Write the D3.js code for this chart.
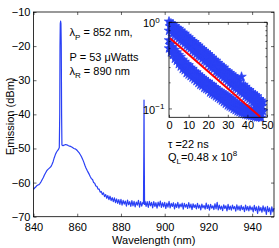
<!DOCTYPE html>
<html><head><meta charset="utf-8">
<script src="https://cdn.jsdelivr.net/npm/d3@7"></script>
<style>body{margin:0;background:#fff}svg{display:block}text{font-family:"Liberation Sans",Arial,sans-serif;fill:#000}</style>
</head><body>
<script>
// ---- main spectrum data ----
const wavelengths = [840,840.5,841,841.5,842,842.5,843,843.5,844,844.5,845,845.5,846,846.5,847,847.5,848,848.5,849,849.5,850,850.5,851,851.5,851.8,852.0,852.12,852.25,852.4,852.55,852.7,852.85,853.0,853.5,854,854.5,855,855.5,856,856.5,857,857.5,858,858.5,859,859.5,860,860.5,861,861.5,862,862.5,863,863.5,864,864.5,865,865.5,
866,866.5,867,867.5,868,868.5,869,869.5,870,870.5,871,871.5,872,872.5,873,873.5,874,874.5,875,875.5,876,876.5,877,877.5,878,878.5,879,879.5,880,880.5,881,881.5,882,882.5,883,883.5,884,884.5,885,885.5,886,886.5,887,887.5,888,888.5,889,889.5,890,890.3,890.45,890.55,890.65,890.8,
891,891.5,892,892.5,893,893.5,894,894.5,895,895.5,896,896.5,897,897.5,898,898.5,899,899.5,900,900.5,901,901.5,902,902.5,903,903.5,904,904.5,905,905.5,906,906.5,907,907.5,908,908.5,909,909.5,910,910.5,911,911.5,912,912.5,913,913.5,914,914.5,915,915.5,916,916.5,917,917.5,918,918.5,919,919.5,920,920.5,921,921.5,922,922.5,923,923.5,924,924.5,925,925.5,926,926.5,927,927.5,928,928.5,929,929.5,930,930.5,931,931.5,932,932.5,933,933.5,934,934.5,935,935.5,936,936.5,937,937.5,938,938.5,939,939.5,940,940.5,941,941.5,942,942.5,943,943.5,944,944.5,945,945.5,946,946.5,947,947.5,948,948.5,949,949.5,950];
const emission = [-62.0,-61.6,-61.3,-60.9,-60.7,-60.6,-60.2,-59.7,-59.1,-58.5,-57.8,-57.2,-56.6,-56.2,-55.9,-55.6,-55.3,-54.6,-53.8,-52.7,-51.8,-51.1,-50.6,-50.2,-49.7,-40,-20,-13.4,-12.7,-13.4,-20,-40,-49.0,-49.2,-49.0,-48.9,-48.9,-49.0,-49.2,-49.3,-49.4,-49.6,-49.8,-50.0,-50.1,-50.3,-50.6,-51.0,-51.4,-51.9,-52.5,-53.2,-54.0,-54.9,-55.7,-56.4,-57.0,-57.6,
-58.3,-58.9,-59.1,-60.0,-60.2,-61.0,-61.1,-61.9,-61.9,-62.8,-62.6,-63.5,-63.0,-64.1,-63.5,-64.6,-63.8,-65.0,-64.0,-65.3,-64.4,-65.6,-64.5,-65.9,-64.8,-66.1,-65.0,-66.4,-64.9,-66.6,-65.2,-66.3,-65.4,-66.9,-65.1,-66.5,-65.6,-67.0,-65.3,-66.8,-65.5,-67.1,-65.7,-66.6,-65.2,-67.2,-65.6,-66.9,-65.8,-66.2,-52,-35.8,-52,-66.4,
-65.4,-67.0,-65.6,-67.3,-65.5,-66.8,-65.8,-67.4,-65.6,-67.0,-65.9,-67.5,-65.7,-66.9,-65.4,-67.3,-65.9,-67.1,-65.8,-67.6,-66.0,-67.2,-65.5,-67.4,-66.1,-67.0,-65.9,-67.7,-66.2,-67.3,-65.8,-67.5,-66.3,-67.1,-66.0,-67.8,-66.1,-67.2,-66.4,-67.6,-65.9,-67.4,-66.3,-67.9,-66.2,-67.3,-66.5,-67.7,-66.1,-67.5,-66.6,-68.0,-66.3,-67.4,-66.7,-67.8,-66.0,-67.6,-66.5,-68.1,-66.4,-67.5,-66.8,-67.9,-66.2,-67.7,-65.8,-68.0,-66.6,-67.8,-66.9,-68.2,-66.5,-67.6,-66.8,-68.3,-66.4,-67.9,-66.9,-68.1,-66.6,-67.7,-67.0,-68.4,-66.5,-68.0,-66.9,-68.2,-66.7,-67.9,-67.1,-68.5,-66.6,-68.1,-67.0,-68.3,-66.8,-68.0,-67.2,-68.6,-66.7,-68.2,-67.1,-69.0,-66.9,-68.3,-67.3,-68.7,-66.8,-68.4,-67.2,-69.3,-67.0,-68.5,-67.4,-69.4,-67.1,-68.6,-67.5];
const xTicks = [840,860,880,900,920,940];
const yTicks = [-70,-60,-50,-40,-30,-20,-10];

// ---- inset ring-down data (time ns, normalized) ----
const decayUpper = [[0,1.02],[0,0.80],[1,0.97],[1,0.78],[2,0.95],[2,0.74],[3,0.90],[3,0.72],[4,0.86],[4,0.68],[5,0.84],[5,0.65],[6,0.80],[6,0.62],[7,0.76],[7,0.60],[8,0.74],[8,0.57],[9,0.70],[9,0.54],[10,0.67],[10,0.52],[11,0.64],[11,0.50],[12,0.61],[12,0.47],[13,0.59],[13,0.45],[14,0.56],[14,0.43],[15,0.54],[15,0.41],[16,0.51],[16,0.40],[17,0.49],[17,0.38],[18,0.47],[18,0.36],[19,0.45],[19,0.35],[20,0.43],[20,0.33],[21,0.41],[21,0.31],[22,0.39],[22,0.30],[23,0.37],[23,0.29],[24,0.36],[24,0.27],[25,0.34],[25,0.26],[26,0.32],[26,0.25],[27,0.31],[27,0.24],[28,0.30],[28,0.23],[29,0.28],[29,0.22],[30,0.27],[30,0.21],[31,0.26],[31,0.20],[32,0.25],[32,0.19],[33,0.24],[33,0.18],[34,0.23],[34,0.175],[35,0.22],[35,0.17],[36,0.21],[36,0.16],[37,0.235],[37,0.155],[38,0.19],[38,0.15],[39,0.18],[39,0.14],[40,0.17],[40,0.135],[41,0.165],[41,0.13],[42,0.155],[42,0.125],[43,0.15],[43,0.12],[44,0.145],[44,0.11],[45,0.14],[45,0.105],[46,0.13],[46,0.10],[47,0.125],[47,0.097],[48,0.12],[48,0.094]];
const decayUpperMid = [[0.5,0.90],[1.5,0.85],[2.5,0.82],[3.5,0.79],[4.5,0.74],[5.5,0.72],[6.5,0.69],[7.5,0.66],[8.5,0.63],[9.5,0.60],[10.5,0.58],[11.5,0.56],[12.5,0.53],[13.5,0.51],[14.5,0.49],[15.5,0.47],[16.5,0.45],[17.5,0.43],[18.5,0.41],[19.5,0.39],[20.5,0.37],[21.5,0.36],[22.5,0.34],[23.5,0.33],[24.5,0.31],[25.5,0.30],[26.5,0.28],[27.5,0.27],[28.5,0.26],[29.5,0.25],[30.5,0.24],[31.5,0.23],[32.5,0.215],[33.5,0.205],[34.5,0.198],[35.5,0.19],[36.5,0.18],[37.5,0.17],[38.5,0.165],[39.5,0.157],[40.5,0.15],[41.5,0.145],[42.5,0.138],[43.5,0.132],[44.5,0.125],[45.5,0.12],[46.5,0.114],[47.5,0.108]];
const decayLower = [[0,0.62],[0,0.50],[1,0.56],[1,0.45],[2,0.52],[2,0.42],[3,0.48],[3,0.38],[4,0.45],[4,0.36],[5,0.42],[5,0.33],[6,0.40],[6,0.31],[7,0.37],[7,0.29],[8,0.35],[8,0.28],[9,0.33],[9,0.26],[10,0.32],[10,0.25],[11,0.30],[11,0.24],[12,0.29],[12,0.23],[13,0.27],[13,0.22],[14,0.265],[14,0.21],[15,0.25],[15,0.20],[16,0.24],[16,0.19],[17,0.23],[17,0.185],[18,0.22],[18,0.175],[19,0.21],[19,0.17],[20,0.205],[20,0.165],[21,0.195],[21,0.155],[22,0.19],[22,0.15],[23,0.18],[23,0.145],[24,0.175],[24,0.14],[25,0.165],[25,0.135],[26,0.16],[26,0.13],[27,0.155],[27,0.125],[28,0.15],[28,0.12],[29,0.145],[29,0.115],[30,0.14],[30,0.11],[31,0.135],[31,0.107],[32,0.13],[32,0.104],[33,0.125],[33,0.10],[34,0.12],[34,0.097],[35,0.115],[35,0.094],[36,0.112],[36,0.092],[37,0.108],[37,0.09],[38,0.105],[38,0.088],[39,0.102],[39,0.086],[40,0.10],[40,0.085],[41,0.098],[41,0.084],[42,0.096],[42,0.083],[43,0.095],[43,0.082],[44,0.094],[44,0.081],[45,0.093],[45,0.08],[46,0.092],[46,0.08],[47,0.09],[47,0.079]];
const decayLowerMid = [[0.5,0.55],[1.5,0.50],[2.5,0.45],[3.5,0.42],[4.5,0.39],[5.5,0.37],[6.5,0.35],[7.5,0.32],[8.5,0.31],[9.5,0.29],[10.5,0.275],[11.5,0.265],[12.5,0.25],[13.5,0.24],[14.5,0.23],[15.5,0.22],[16.5,0.21],[17.5,0.205],[18.5,0.195],[19.5,0.19],[20.5,0.18],[21.5,0.175],[22.5,0.167],[23.5,0.16],[24.5,0.155],[25.5,0.15],[26.5,0.143],[27.5,0.138],[28.5,0.133],[29.5,0.128],[30.5,0.123],[31.5,0.12],[32.5,0.115],[33.5,0.11],[34.5,0.106],[35.5,0.103],[36.5,0.1],[37.5,0.098],[38.5,0.095],[39.5,0.093],[40.5,0.091],[41.5,0.09],[42.5,0.089],[43.5,0.088],[44.5,0.087],[45.5,0.086],[46.5,0.085]];
const fitTime = [0.5, 46.5];
const fitValue = [0.655, 0.081];
const insetXTicks = [0,10,20,30,40,50];
const insetMinorTicks = [0.2,0.3,0.4,0.5,0.6,0.7,0.8,0.9];

const W = 279, H = 248;
const blue = "#2a40f5";
const svg = d3.select("body").append("svg").attr("width", W).attr("height", H);

// main scales
const x = d3.scaleLinear().domain([840, 950]).range([33.5, 274]);
const y = d3.scaleLinear().domain([-70, -10]).range([216.7, 12]);

// main line
const line = d3.line().x((d,i)=>x(wavelengths[i])).y((d,i)=>y(emission[i]));
svg.append("path").datum(emission).attr("d", line)
  .attr("fill","none").attr("stroke",blue).attr("stroke-width",1.2).attr("stroke-linejoin","round");

// main box & ticks
const fs = 11;
svg.append("rect").attr("x",x(840)).attr("y",y(-10)).attr("width",x(950)-x(840)).attr("height",y(-70)-y(-10))
  .attr("fill","none").attr("stroke","#000").attr("stroke-width",0.8);
const axB = d3.axisBottom(x).tickValues(xTicks).tickSize(-3).tickFormat(d3.format("d"));
svg.append("g").attr("transform",`translate(0,${y(-70)})`).call(axB).call(g=>{
  g.select(".domain").remove();
  g.selectAll("text").attr("font-size",fs).attr("y",7).attr("dy","0.71em").style("font-family",'"Liberation Sans",Arial,sans-serif');
  g.selectAll("line").attr("stroke","#000").attr("stroke-width",0.6);
});
const axT = d3.axisTop(x).tickValues(xTicks).tickSize(-3).tickFormat("");
svg.append("g").attr("transform",`translate(0,${y(-10)})`).call(axT).call(g=>{g.select(".domain").remove();g.selectAll("line").attr("stroke","#000").attr("stroke-width",0.6);});
const axL = d3.axisLeft(y).tickValues(yTicks).tickSize(-3).tickFormat(d=>d3.format("d")(d).replace("-","\u2212"));
svg.append("g").attr("transform",`translate(${x(840)},0)`).call(axL).call(g=>{
  g.select(".domain").remove();
  g.selectAll("text").attr("font-size",fs).attr("x",-3).style("font-family",'"Liberation Sans",Arial,sans-serif');
  g.selectAll("line").attr("stroke","#000").attr("stroke-width",0.6);
});
const axR = d3.axisRight(y).tickValues(yTicks).tickSize(-3).tickFormat("");
svg.append("g").attr("transform",`translate(${x(950)},0)`).call(axR).call(g=>{g.select(".domain").remove();g.selectAll("line").attr("stroke","#000").attr("stroke-width",0.6);});

svg.append("text").attr("x",(x(840)+x(950))/2).attr("y",244).attr("text-anchor","middle").attr("font-size",fs).text("Wavelength (nm)");
svg.append("text").attr("transform",`translate(13.5,${(y(-10)+y(-70))/2+2}) rotate(-90)`).attr("text-anchor","middle").attr("font-size",fs).text("Emission (dBm)");

// annotations
function rich(xp, yp, parts){
  const t = svg.append("text").attr("x",xp).attr("y",yp).attr("font-size",fs);
  let shift = 0;
  parts.forEach(p=>{
    const s = t.append("tspan").text(p.t);
    const target = p.sub ? 3.5 : p.sup ? -4.5 : 0;
    if (target !== shift) { s.attr("dy", target - shift); shift = target; }
    if (p.sub || p.sup) s.attr("font-size", 8);
  });
  return t;
}
rich(69.5, 36, [{t:"\u03bb"},{t:"P",sub:true},{t:" = 852 nm,"}]);
rich(69.5, 60.5, [{t:"P = 53 \u03bcWatts"}]);
rich(69.5, 74.5, [{t:"\u03bb"},{t:"R",sub:true},{t:" = 890 nm"}]);

// inset
const xi = d3.scaleLinear().domain([0, 50]).range([169, 267]);
const yi = d3.scaleLog().domain([0.08, 1]).range([117.3, 22.3]);
svg.append("rect").attr("x",xi(0)).attr("y",yi(1)).attr("width",xi(50)-xi(0)).attr("height",yi(0.08)-yi(1)).attr("fill","#fff");

const star = d3.symbol().type(d3.symbolStar).size(28);
const gi = svg.append("g");
[decayUpper, decayUpperMid, decayLower, decayLowerMid].forEach(set=>{
  gi.append("g").selectAll("path").data(set).join("path").attr("d",star)
    .attr("transform",d=>`translate(${xi(d[0])},${yi(d[1])})`).attr("fill",blue).attr("stroke",blue).attr("stroke-width",0.7);
});

svg.append("path").datum(fitTime).attr("d", d3.line().x((d,i)=>xi(fitTime[i])).y((d,i)=>yi(fitValue[i])))
  .attr("stroke","#ff0000").attr("stroke-width",2).attr("fill","none");

svg.append("rect").attr("x",xi(0)).attr("y",yi(1)).attr("width",xi(50)-xi(0)).attr("height",yi(0.08)-yi(1))
  .attr("fill","none").attr("stroke","#000").attr("stroke-width",0.8);
const iB = d3.axisBottom(xi).tickValues(insetXTicks).tickSize(-2.5).tickFormat(d3.format("d"));
svg.append("g").attr("transform",`translate(0,${yi(0.08)})`).call(iB).call(g=>{
  g.select(".domain").remove();
  g.selectAll("text").attr("font-size",fs).attr("y",4).attr("dy","0.71em").style("font-family",'"Liberation Sans",Arial,sans-serif');
  g.selectAll("line").attr("stroke","#000").attr("stroke-width",0.6);
});
const iT = d3.axisTop(xi).tickValues(insetXTicks).tickSize(-2.5).tickFormat("");
svg.append("g").attr("transform",`translate(0,${yi(1)})`).call(iT).call(g=>{g.select(".domain").remove();g.selectAll("line").attr("stroke","#000").attr("stroke-width",0.6);});
[[xi(0),1],[xi(50),-1]].forEach(([px,dir])=>{
  svg.append("g").selectAll("line").data([0.1,1]).join("line")
    .attr("x1",px).attr("x2",px+dir*3).attr("y1",d=>yi(d)).attr("y2",d=>yi(d)).attr("stroke","#000").attr("stroke-width",0.6);
  svg.append("g").selectAll("line").data(insetMinorTicks).join("line")
    .attr("x1",px).attr("x2",px+dir*1.6).attr("y1",d=>yi(d)).attr("y2",d=>yi(d)).attr("stroke","#000").attr("stroke-width",0.6);
});
rich(143, yi(1)+5, [{t:"10"},{t:"0",sup:true}]);
rich(143, yi(0.1)+5, [{t:"10"},{t:"\u22121",sup:true}]);

rich(168, 147.5, [{t:"\u03c4 =22 ns"}]);
rich(168, 160.5, [{t:"Q"},{t:"L",sub:true},{t:"=0.48 x 10"},{t:"8",sup:true}]);
</script>
</body></html>
